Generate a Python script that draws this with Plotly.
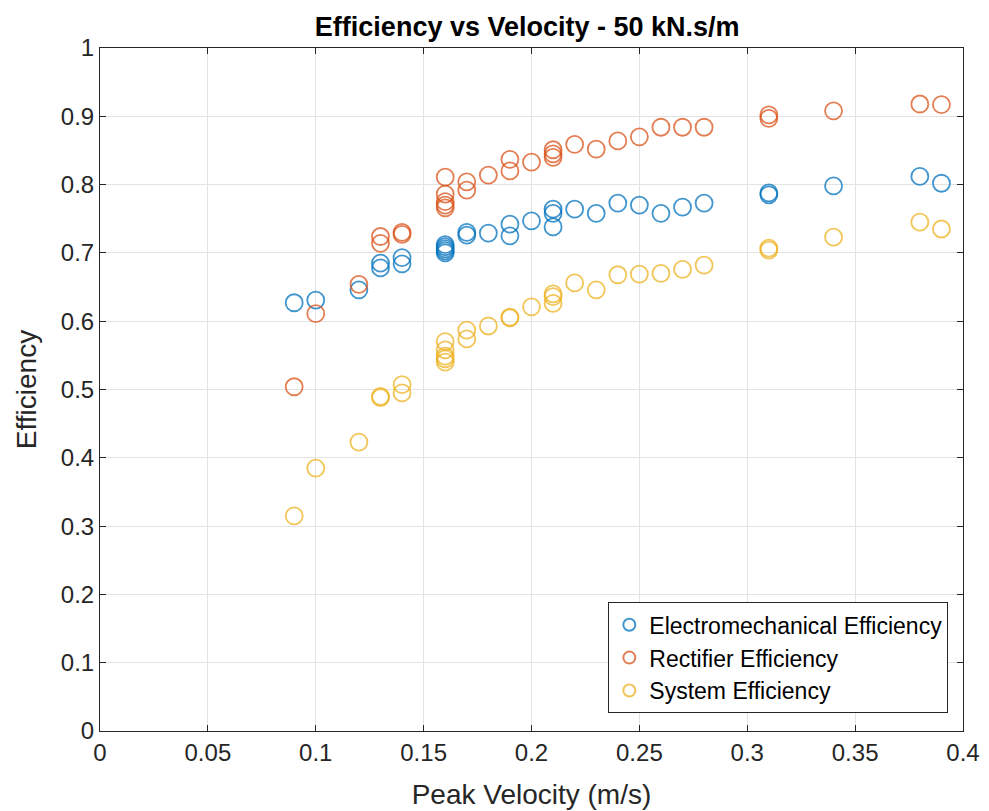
import plotly.graph_objects as go

velocity = [0.09, 0.10, 0.12, 0.13, 0.13, 0.14, 0.14, 0.16, 0.16, 0.16, 0.16, 0.16,
            0.17, 0.17, 0.18, 0.19, 0.19, 0.20, 0.21, 0.21, 0.21, 0.22, 0.23, 0.24,
            0.25, 0.26, 0.27, 0.28, 0.31, 0.31, 0.34, 0.38, 0.39]
electromech = [0.627, 0.631, 0.646, 0.685, 0.678, 0.693, 0.684, 0.712, 0.709, 0.706, 0.703, 0.700,
               0.730, 0.726, 0.729, 0.742, 0.725, 0.747, 0.764, 0.758, 0.738, 0.764, 0.758, 0.773,
               0.770, 0.758, 0.767, 0.773, 0.788, 0.785, 0.798, 0.812, 0.802]
rectifier = [0.504, 0.611, 0.654, 0.724, 0.714, 0.730, 0.727, 0.811, 0.786, 0.775, 0.770, 0.766,
             0.804, 0.792, 0.814, 0.837, 0.820, 0.833, 0.851, 0.845, 0.840, 0.859, 0.852, 0.864,
             0.870, 0.884, 0.884, 0.884, 0.902, 0.897, 0.908, 0.918, 0.917]
system = [0.315, 0.385, 0.423, 0.490, 0.488, 0.507, 0.495, 0.570, 0.558, 0.549, 0.545, 0.540,
          0.587, 0.574, 0.593, 0.606, 0.605, 0.621, 0.640, 0.636, 0.626, 0.656, 0.646, 0.668,
          0.669, 0.670, 0.676, 0.682, 0.707, 0.704, 0.723, 0.745, 0.735]

series = [("Electromechanical Efficiency", electromech, "#0072BD"),
          ("Rectifier Efficiency", rectifier, "#D95319"),
          ("System Efficiency", system, "#EDB120")]

x_ticks = [0, 0.05, 0.1, 0.15, 0.2, 0.25, 0.3, 0.35, 0.4]
x_labels = ["0", "0.05", "0.1", "0.15", "0.2", "0.25", "0.3", "0.35", "0.4"]
y_ticks = [0, 0.1, 0.2, 0.3, 0.4, 0.5, 0.6, 0.7, 0.8, 0.9, 1]
y_labels = ["0", "0.1", "0.2", "0.3", "0.4", "0.5", "0.6", "0.7", "0.8", "0.9", "1"]

fig = go.Figure()
for name, vals, col in series:
    fig.add_trace(go.Scatter(
        x=velocity, y=vals, mode="markers", name=name,
        marker=dict(symbol="circle-open", size=17, color=col, opacity=0.75,
                    line=dict(width=1.8, color=col)),
    ))

font = "Liberation Sans, Arial, sans-serif"
axis_common = dict(
    showgrid=True, gridcolor="#e3e3e3", gridwidth=1,
    showline=True, linecolor="#262626", linewidth=1, mirror="ticks",
    ticks="inside", ticklen=6, tickcolor="#262626",
    tickfont=dict(family=font, size=24, color="#262626"),
    zeroline=False,
)
fig.update_layout(
    width=989, height=811,
    margin=dict(l=92, r=34, t=40, b=88),
    paper_bgcolor="white", plot_bgcolor="white",
    title=dict(text="<b>Efficiency vs Velocity - 50 kN.s/m</b>", x=0.525, xanchor="center",
               y=0.977, yanchor="middle",
               font=dict(family=font, size=27, color="black")),
    xaxis=dict(range=[0, 0.4], tickvals=x_ticks, ticktext=x_labels,
               title=dict(text="Peak Velocity (m/s)", font=dict(family=font, size=28, color="#262626"), standoff=19),
               **axis_common),
    yaxis=dict(range=[0, 1], tickvals=y_ticks, ticktext=y_labels,
               title=dict(text="Efficiency", font=dict(family=font, size=28, color="#262626"), standoff=16),
               **axis_common),
    legend=dict(x=0.983, y=0.026, xanchor="right", yanchor="bottom",
                bgcolor="white", bordercolor="#262626", borderwidth=1,
                font=dict(family=font, size=23, color="black"),
                itemsizing="constant", tracegroupgap=0),
    showlegend=True,
)
fig.write_html("out.html")
